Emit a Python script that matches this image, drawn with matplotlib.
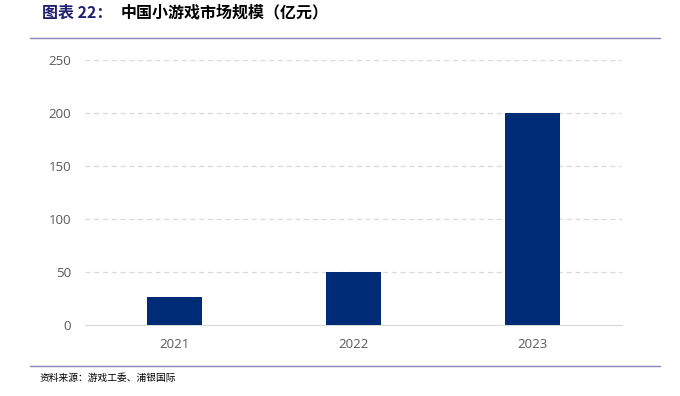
import matplotlib.pyplot as plt
from matplotlib.lines import Line2D

plt.rcParams['font.family'] = ['Noto Sans CJK SC', 'DejaVu Sans']

years = ['2021', '2022', '2023']
market_size = [27, 50, 200]
yticks = [0, 50, 100, 150, 200, 250]

fig = plt.figure(figsize=(6.8, 3.96), dpi=100)
ax = fig.add_axes([0.125, 0.179, 0.79, 0.669])

x = range(len(years))
ax.bar(x, market_size, width=0.31, color='#002b77', zorder=3)

ax.set_xlim(-0.5, 2.5)
ax.set_ylim(0, 250)
ax.set_yticks(yticks)
ax.set_xticks(list(x))
ax.set_xticklabels(years)
ax.yaxis.grid(True, linestyle=(0, (4, 3)), color='#d9d9d9', linewidth=0.9, zorder=0)
for s in ['top', 'right', 'left']:
    ax.spines[s].set_visible(False)
ax.spines['bottom'].set_color('#d9d9d9')
ax.tick_params(axis='both', length=0, colors='#595959', labelsize=9.5)
ax.tick_params(axis='y', pad=10)
ax.tick_params(axis='x', pad=9)
for lab in ax.get_xticklabels() + ax.get_yticklabels():
    lab.set_fontfamily(['Open Sans', 'DejaVu Sans'])

# title
fig.text(0.062, 0.968, '图表 22：', color='#1f1f6e', fontsize=11.5,
         fontweight='bold', va='center', ha='left')
fig.text(0.178, 0.968, '中国小游戏市场规模（亿元）', color='black', fontsize=11.5,
         fontweight='bold', va='center', ha='left')
fig.add_artist(Line2D([0.044, 0.97], [0.903, 0.903], color='#8888bb', linewidth=1))
fig.add_artist(Line2D([0.044, 0.97], [0.076, 0.076], color='#8888bb', linewidth=1))
fig.text(0.058, 0.046, '资料来源：游戏工委、浦银国际', color='black', fontsize=7,
         va='center', ha='left')

fig.savefig('out.png', dpi=100)
